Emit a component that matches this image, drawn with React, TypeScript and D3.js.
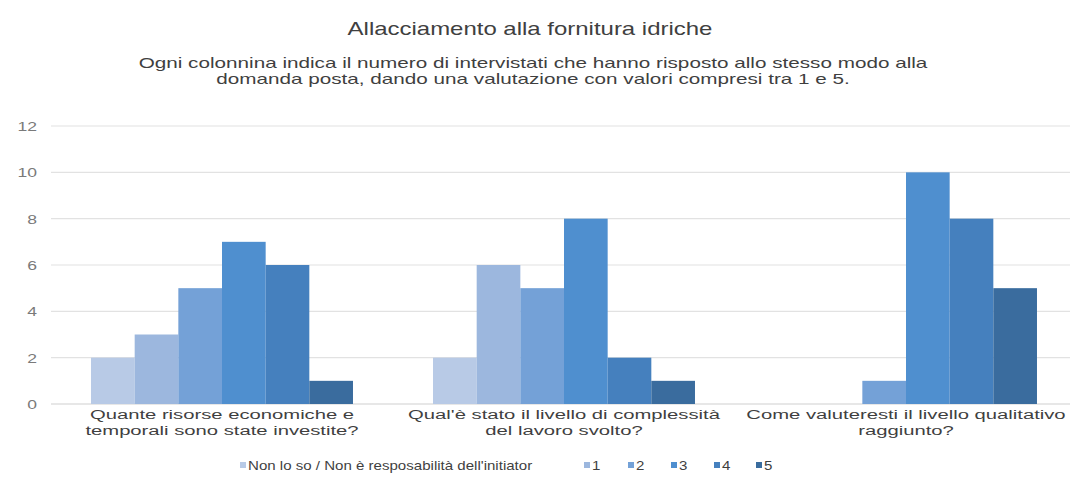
import React from "react";
import * as d3 from "d3";

const questions = [
  ["Quante risorse economiche e", "temporali sono state investite?"],
  ["Qual'è stato il livello di complessità", "del lavoro svolto?"],
  ["Come valuteresti il livello qualitativo", "raggiunto?"],
];
const seriesNames = ["Non lo so / Non è resposabilità dell'initiator", "1", "2", "3", "4", "5"];
const seriesColors = ["#b8cae6", "#9cb7de", "#74a1d7", "#4f8fcf", "#4580be", "#3a6c9e"];
// counts per question, one array per answer
const nonLoSo = [2, 2, 0];
const score1 = [3, 6, 0];
const score2 = [5, 5, 1];
const score3 = [7, 8, 10];
const score4 = [6, 2, 8];
const score5 = [1, 1, 5];
const yTicks = [0, 2, 4, 6, 8, 10, 12];

const title = "Allacciamento alla fornitura idriche";
const subtitle = [
  "Ogni colonnina indica il numero di intervistati che hanno risposto allo stesso modo alla",
  "domanda posta, dando una valutazione con valori compresi tra 1 e 5.",
];

const W = 1074;
const H = 498;
// the text face is drawn wide: about 1.5x its natural advance
const STRETCH = 1.5;

type WideProps = {
  x: number;
  y: number;
  size: number;
  anchor?: "start" | "middle" | "end";
  fill?: string;
  sx?: number;
  children: React.ReactNode;
};

function Wide({ x, y, size, anchor = "start", fill = "#3f3f3f", sx = STRETCH, children }: WideProps) {
  return (
    <text
      transform={`translate(${x},${y}) scale(${sx},1)`}
      textAnchor={anchor}
      fontSize={size}
      fill={fill}
    >
      {children}
    </text>
  );
}

export default function App() {
  const values = [nonLoSo, score1, score2, score3, score4, score5];
  const qIdx = questions.map((_, i) => String(i));
  const x0 = d3.scaleBand<string>().domain(qIdx).range([51, 1077]).paddingInner(0.234).paddingOuter(0.117);
  const x1 = d3.scaleBand<string>().domain(seriesNames).range([0, x0.bandwidth()]);
  const y = d3.scaleLinear().domain([0, 12]).range([404, 126]);
  const font = "'Liberation Sans', Arial, sans-serif";

  const legendItems = [
    { x: 240, name: seriesNames[0] },
    { x: 584, name: seriesNames[1] },
    { x: 628, name: seriesNames[2] },
    { x: 671, name: seriesNames[3] },
    { x: 714, name: seriesNames[4] },
    { x: 756, name: seriesNames[5] },
  ];

  return (
    <div style={{ position: "absolute", left: 0, top: 0 }}>
      <svg width={W} height={H} style={{ display: "block", background: "#fff" }} fontFamily={font}>
        <Wide x={530} y={35} size={17.5} anchor="middle" sx={1.37} fill="#404040">
          {title}
        </Wide>
        {subtitle.map((line, i) => (
          <Wide key={i} x={533} y={68 + i * 16} size={13.8} anchor="middle">
            {line}
          </Wide>
        ))}

        {yTicks.map((t) => (
          <g key={t}>
            <line x1={51} x2={1070} y1={y(t)} y2={y(t)} stroke={t === 0 ? "#d0d0d0" : "#e2e2e2"} strokeWidth={1.2} />
            <Wide x={37} y={y(t) + 5} size={13.5} anchor="end" fill="#7a7a7a" sx={1.3}>
              {t}
            </Wide>
          </g>
        ))}

        {qIdx.map((q, qi) => (
          <g key={q} transform={`translate(${x0(q)},0)`}>
            {seriesNames.map((s, si) => {
              const v = values[si][qi];
              if (v <= 0) return null;
              return (
                <rect
                  key={s}
                  x={x1(s)}
                  y={y(v)}
                  width={x1.bandwidth()}
                  height={y(0) - y(v)}
                  fill={seriesColors[si]}
                />
              );
            })}
          </g>
        ))}

        {questions.map((lines, qi) => {
          const cx = (x0(String(qi)) as number) + x0.bandwidth() / 2;
          return lines.map((l, li) => (
            <Wide key={`${qi}-${li}`} x={cx} y={419 + li * 16} size={13.5} anchor="middle">
              {l}
            </Wide>
          ));
        })}

        {legendItems.map((it, i) => (
          <g key={i}>
            <rect x={it.x} y={462} width={6} height={6} fill={seriesColors[i]} />
            <Wide x={it.x + 8} y={470} size={13} sx={1.16}>
              {it.name}
            </Wide>
          </g>
        ))}
      </svg>
    </div>
  );
}
